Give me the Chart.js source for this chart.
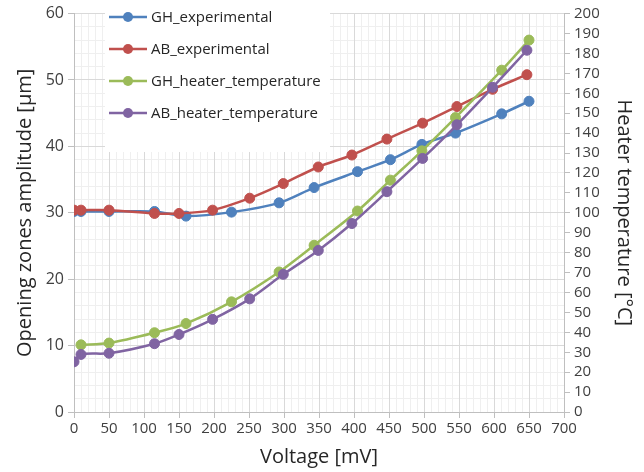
<!DOCTYPE html>
<html><head><meta charset="utf-8">
<script src="https://cdn.jsdelivr.net/npm/chart.js@4"></script>
<style>html,body{margin:0;padding:0;background:#fff}#wrap{width:644px;height:472px}</style>
</head><body><div id="wrap"><canvas id="c" width="644" height="472"></canvas></div>
<script>
// ---- data ----
const ghVoltage = [0, 10, 50, 115, 160, 225, 293, 343, 405, 452, 497, 545, 611, 650];
const ghExperimental = [30.2, 30.2, 30.2, 30.2, 29.5, 30.1, 31.5, 33.8, 36.2, 38.0, 40.3, 42.0, 44.9, 46.8];
const ghHeaterTemperature = [null, 33.7, 34.6, 39.8, 44.4, 55.3, 70.3, 83.7, 100.9, 116.4, 131.1, 147.8, 171.6, 186.7];
const abVoltage = [0, 10, 50, 115, 150, 198, 251, 299, 349, 397, 447, 498, 547, 598, 647];
const abExperimental = [30.4, 30.4, 30.4, 29.9, 29.9, 30.4, 32.2, 34.4, 36.9, 38.7, 41.1, 43.5, 46.0, 48.6, 50.8];
const abHeaterTemperature = [25.2, 28.9, 29.5, 34.3, 38.9, 46.5, 56.8, 69.1, 81.1, 94.6, 110.6, 127.3, 144.2, 163.0, 181.6];
const seriesNames = ['GH_experimental', 'AB_experimental', 'GH_heater_temperature', 'AB_heater_temperature'];
const xRange = [0, 700], xStep = 50, xMinorStep = 10;
const yRange = [0, 60], yStep = 10, yMinorStep = 2;
const y2Range = [0, 200], y2Step = 10;
const axisTitles = { x: 'Voltage [mV]', y: 'Opening zones amplitude [μm]', y2: 'Heater temperature [°C]' };

function pairs(xs, ys) {
  const out = [];
  xs.forEach((x, i) => { if (ys[i] !== null && ys[i] !== undefined) out.push({ x: x, y: ys[i] }); });
  return out;
}

const COLORS = ['#4F81BD', '#C0504D', '#9BBB59', '#8064A2'];
const GRID = '#d9d9d9', MINOR = '#efefef', AXIS = '#bfbfbf', TXT = '#404040';

Chart.defaults.font.family = "'Open Sans', 'DejaVu Sans', sans-serif";

function ds(i, data, axis, order) {
  return {
    label: seriesNames[i], data: data, yAxisID: axis, order: order,
    borderColor: COLORS[i], backgroundColor: COLORS[i],
    pointBackgroundColor: COLORS[i], pointBorderColor: COLORS[i],
    borderWidth: 2.5, pointRadius: 5, pointBorderWidth: 1,
    showLine: true, tension: 0.3, fill: false
  };
}

const legendPlugin = {
  id: 'boxLegend',
  beforeDatasetsDraw(chart) {
    const ctx = chart.ctx;
    ctx.save();
    ctx.fillStyle = '#ffffff';
    ctx.fillRect(105, 0, 225, 152);
    chart.data.datasets.forEach((d, i) => {
      const y = 17 + i * 32;
      ctx.strokeStyle = d.borderColor; ctx.lineWidth = 2.5;
      ctx.beginPath(); ctx.moveTo(109, y); ctx.lineTo(147, y); ctx.stroke();
      ctx.fillStyle = d.backgroundColor;
      ctx.beginPath(); ctx.arc(128, y, 5, 0, Math.PI * 2); ctx.fill();
      ctx.fillStyle = '#262626';
      ctx.font = "15px 'Open Sans'";
      ctx.textBaseline = 'middle'; ctx.textAlign = 'left';
      ctx.fillText(d.label, 151, y + 1);
    });
    ctx.restore();
  }
};

const minorColor = (step) => (c) => (Math.abs(c.tick.value % step) < 1e-6 ? 'rgba(0,0,0,0)' : MINOR);

new Chart(document.getElementById('c'), {
  type: 'scatter',
  data: {
    datasets: [
      ds(0, pairs(ghVoltage, ghExperimental), 'y', 3),
      ds(1, pairs(abVoltage, abExperimental), 'y', 2),
      ds(2, pairs(ghVoltage, ghHeaterTemperature), 'y2', 1),
      ds(3, pairs(abVoltage, abHeaterTemperature), 'y2', 0)
    ]
  },
  options: {
    responsive: false, animation: false, devicePixelRatio: 1,
    layout: { padding: 0 },
    plugins: { legend: { display: false }, tooltip: { enabled: false } },
    scales: {
      xMinor: {
        type: 'linear', position: 'bottom', min: xRange[0], max: xRange[1],
        ticks: { display: false, stepSize: xMinorStep },
        grid: { color: minorColor(xStep), drawTicks: false, lineWidth: 1 },
        border: { display: false },
        afterFit(s) { s.height = 0; }
      },
      yMinor: {
        type: 'linear', position: 'left', min: yRange[0], max: yRange[1],
        ticks: { display: false, stepSize: yMinorStep },
        grid: { color: minorColor(yStep), drawTicks: false, lineWidth: 1 },
        border: { display: false },
        afterFit(s) { s.width = 0; }
      },
      x: {
        type: 'linear', position: 'bottom', min: xRange[0], max: xRange[1],
        ticks: { stepSize: xStep, autoSkip: false, maxRotation: 0, color: TXT, font: { size: 15 }, padding: 2 },
        grid: { color: GRID, tickColor: AXIS, tickLength: 6 },
        border: { color: AXIS },
        title: { display: true, text: axisTitles.x, color: '#262626', font: { size: 20 }, padding: { top: 0, bottom: 3 } },
        afterFit(s) { s.height = 60; }
      },
      y: {
        type: 'linear', position: 'left', min: yRange[0], max: yRange[1],
        ticks: { stepSize: yStep, autoSkip: false, color: TXT, font: { size: 16 }, padding: 4 },
        grid: { color: GRID, tickColor: AXIS, tickLength: 6 },
        border: { color: AXIS },
        title: { display: true, text: axisTitles.y, color: '#262626', font: { size: 20 }, padding: { top: 13, bottom: 0 } },
        afterFit(s) { s.width = 74; }
      },
      y2: {
        type: 'linear', position: 'right', min: y2Range[0], max: y2Range[1],
        ticks: { stepSize: y2Step, autoSkip: false, color: TXT, font: { size: 15 }, padding: 4 },
        grid: { drawOnChartArea: false, tickColor: AXIS, tickLength: 6 },
        border: { color: AXIS },
        title: { display: true, text: axisTitles.y2, color: '#262626', font: { size: 20 }, padding: { top: 8, bottom: 0 } },
        afterFit(s) { s.width = 80; }
      }
    }
  },
  plugins: [legendPlugin]
});
</script>
</body></html>
